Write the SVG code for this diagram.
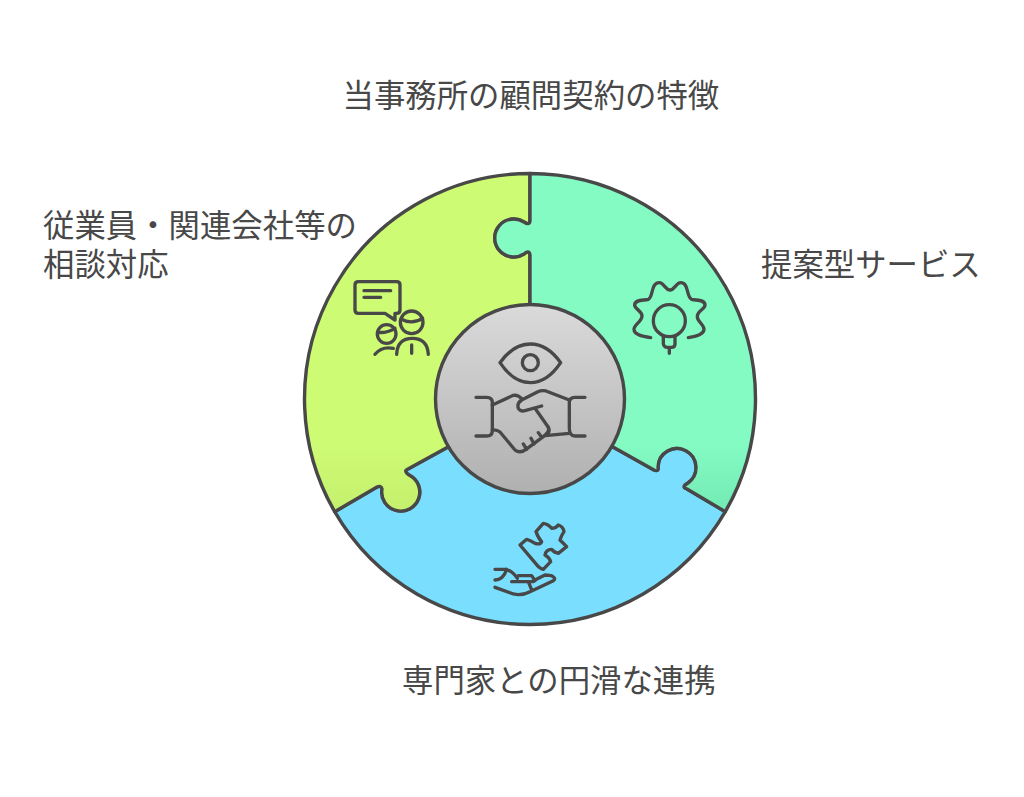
<svg xmlns="http://www.w3.org/2000/svg" width="1024" height="797" viewBox="0 0 1024 797">
<style>
.seg{stroke:#484848;stroke-width:3.4;stroke-linejoin:round}
.ic{fill:none;stroke:#484848;stroke-width:10;stroke-linecap:round;stroke-linejoin:round}
text{font-family:"Noto Sans CJK JP","Noto Sans",sans-serif;font-size:31.4px;fill:#484848}
</style>
<defs>
<linearGradient id="gG" x1="0" y1="0" x2="0" y2="1"><stop offset="0.8" stop-color="#CEFB74"/><stop offset="1" stop-color="#C4F06E"/></linearGradient>
<linearGradient id="gA" x1="0" y1="0" x2="0" y2="1"><stop offset="0.8" stop-color="#84FBC3"/><stop offset="1" stop-color="#72EAB3"/></linearGradient>
<linearGradient id="gC" x1="0" y1="0" x2="0" y2="1"><stop offset="0" stop-color="#DADADA"/><stop offset="1" stop-color="#B0B0B0"/></linearGradient>
</defs>
<rect width="1024" height="797" fill="#fff"/>
<g id="connectors"></g>
<g id="segment-blue"><path class="seg" fill="#7ADEFF" d="M334.700 511.700L377 487Q381 485 382 489A19 19 0 1 0 409 475Q403 471 408 469L448 447L613 447L654 470Q659 472 658 467A19 19 0 1 1 688 483Q681 487 687 489L725.300 511.700A225.500 225.500 0 0 1 334.700 511.700Z"/></g>
<g id="segment-green"><path class="seg" fill="url(#gG)" d="M530 173.500A225.500 225.500 0 0 0 334.700 511.700L377 487Q381 485 382 489A19 19 0 1 0 409 475Q403 471 408 469L448 447L530 399L530 256Q530 249 524 254A19 19 0 1 1 524 222Q530 226 530 220Z"/></g>
<g id="segment-aqua"><path class="seg" fill="url(#gA)" d="M530 173.500A225.500 225.500 0 0 1 725.300 511.700L687 489Q681 487 688 483A19 19 0 1 0 658 467Q659 472 654 470L613 447L530 399L530 256Q530 249 524 254A19 19 0 1 1 524 222Q530 226 530 220Z"/></g>
<g id="center"><circle class="seg" cx="530" cy="399" r="94.500" fill="url(#gC)"/>
<g class="ic" transform="translate(460 320) scale(.3333)">
<path d="M120 128Q160 72 211 72T302 128Q262 188 211 188T120 128Z"/><circle cx="211" cy="128" r="24"/>
<path d="M48 232H80Q97 232 97 248V332Q97 348 80 348H48M375 232H345Q328 232 328 248V325Q328 348 345 348H375"/>
<path d="M97 255L160 226Q175 224 187 238M328 240L258 213Q245 210 232 216L185 240Q170 250 175 265Q182 276 195 272L245 258M225 265L265 322Q272 338 255 347L328 340"/>
<path d="M97 330Q110 328 120 336L165 390Q180 402 198 388L250 350Q270 335 265 322M190 372L200 388M213 355L222 372M235 338L245 352"/>
</g></g>
<g id="node-consult"><g class="ic" transform="translate(340 270) scale(.3333)">
<path d="M55 35H170Q180 35 180 45V120Q180 130 170 130H165V150L135 130H55Q45 130 45 120V45Q45 35 55 35Z"/>
<path d="M72 62H152M72 82H122"/>
<circle cx="140" cy="192" r="28"/><path d="M113 187Q140 190 165 175"/>
<circle cx="215" cy="157" r="34"/><path d="M183 147Q215 165 248 145"/>
<path d="M105 253Q125 228 160 235M170 253Q172 205 217 205T265 253M215 225V250"/>
</g></g>
<g id="node-proposal"><g class="ic" transform="translate(620 270) scale(.3333)">
<path d="M92 203C70 200 42 195 42 178C42 163 66 155 66 138C66 122 44 118 44 105C44 88 70 92 85 88C100 82 92 38 118 38C132 38 136 60 150 60C164 60 168 38 182 38C208 38 198 82 215 88C230 92 255 88 255 105C255 118 232 122 232 140C232 155 252 163 252 178C252 195 228 200 205 203"/>
<circle cx="148" cy="152" r="48"/>
<path d="M130 198V222Q132 232 142 232H155Q165 232 165 222V198M148 232V250"/>
</g></g>
<g id="node-experts"><g class="ic" transform="translate(480 510) scale(.3333)">
<path d="M120 105L140 88Q150 90 165 100Q180 105 185 95Q175 85 168 65L190 40Q205 42 215 55Q228 55 235 45Q250 50 252 65Q245 75 240 90L260 110L235 130Q222 128 215 118Q198 118 195 135Q208 142 212 155L190 178Q185 178 175 170Z"/>
<path d="M45 178H75Q95 180 112 205M45 210Q70 210 80 178M95 215H160M115 197H155L165 212M145 215L155 240M45 232L100 252Q125 258 150 245L220 212Q230 205 215 197L195 195L160 212"/>
</g></g>
<g id="title"><text x="342.500" y="106.500">当事務所の顧問契約の特徴</text></g>
<g id="label-consult"><text x="43" y="237">従業員・関連会社等の</text><text x="43" y="275.500">相談対応</text></g>
<g id="label-proposal"><text x="761" y="275.500">提案型サービス</text></g>
<g id="label-experts"><text x="402" y="692">専門家との円滑な連携</text></g>
</svg>
